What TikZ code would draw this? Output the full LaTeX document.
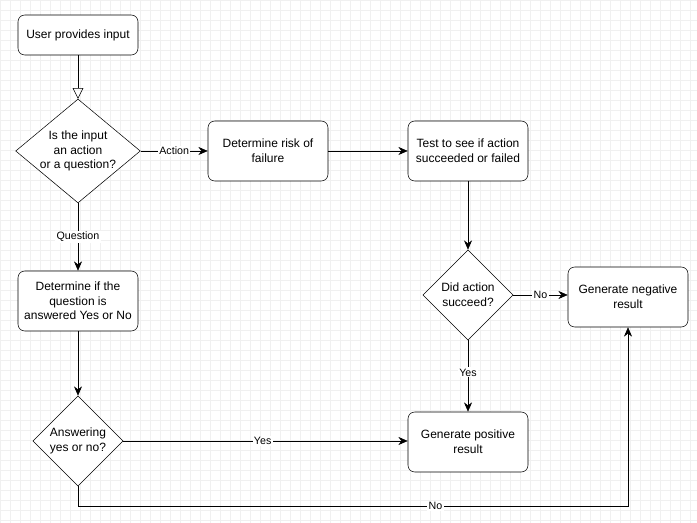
\documentclass[tikz,border=0pt]{standalone}
\usepackage{fontspec}
\setmainfont{Liberation Sans}
\usetikzlibrary{arrows.meta,shapes.geometric,positioning}

\tikzset{
    box/.style={draw, rounded corners=5pt, minimum width=120*0.75pt, minimum height=40*0.75pt, align=center, font=\fontsize{9}{11}\selectfont, fill=white},
    tall/.style={box, minimum height=60*0.75pt},
    choice/.style={draw, diamond, aspect=1, inner sep=0pt, align=center, font=\fontsize{9}{11}\selectfont, fill=white},
    flow/.style={-{Stealth[length=7pt,width=6pt]}},
    tag/.style={fill=white, inner sep=1pt, font=\fontsize{8}{10}\selectfont},
}

\begin{document}
\begin{tikzpicture}[x=0.75pt, y=-0.75pt]
\useasboundingbox (0,0) rectangle (697,523);
\fill[white] (0,0) rectangle (697,523);
\draw[gray!12, step=10*0.75pt] (0,0) grid (697,523);

% nodes
\node[box] (input) at (78,35) {User provides input};
\node[choice, minimum width=120*0.75pt, minimum height=100*0.75pt, aspect=1.2] (kind) at (78,151) {Is the input\\an action\\or a question?};
\node[tall] (risk) at (268,151) {Determine risk of\\failure};
\node[tall] (test) at (468,151) {Test to see if action\\succeeded or failed};
\node[choice, minimum width=90*0.75pt, minimum height=90*0.75pt] (ok) at (468,295) {Did action\\succeed?};
\node[tall] (neg) at (628,297) {Generate negative\\result};
\node[tall] (ask) at (78,301) {Determine if the\\question is\\answered Yes or No};
\node[choice, minimum width=90*0.75pt, minimum height=90*0.75pt] (yn) at (78,441) {Answering\\yes or no?};
\node[tall] (pos) at (468,442) {Generate positive\\result};
\coordinate (low) at (78,506);
\coordinate (lowr) at (628,506);

% connectors
\draw[-{Triangle[open,length=8pt,width=8pt]}] (input) -- (kind);
\draw[flow] (kind) -- node[tag] {Action} (risk);
\draw[flow] (risk) -- (test);
\draw[flow] (test) -- (ok);
\draw[flow] (ok) -- node[tag] {No} (neg.west |- ok);
\draw[flow] (ok) -- node[tag, pos=0.45] {Yes} (pos);
\draw[flow] (kind) -- node[tag, pos=0.5] {Question} (ask);
\draw[flow] (ask) -- (yn);
\draw[flow] (yn) -- node[tag, pos=0.49] {Yes} (pos.west |- yn);
\draw[flow] (yn.south) -- (low) -- node[tag, pos=0.65] {No} (lowr) -- (neg);
\end{tikzpicture}
\end{document}
